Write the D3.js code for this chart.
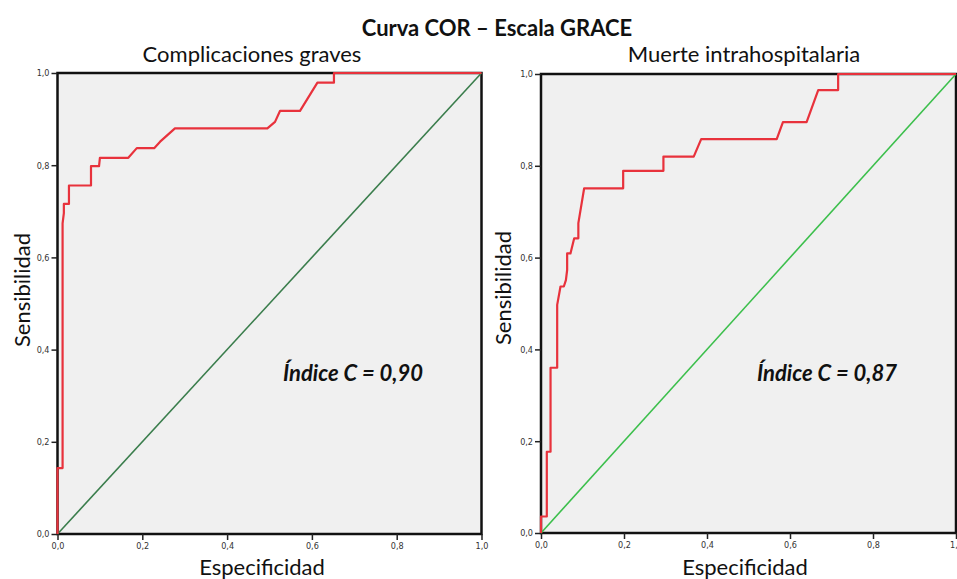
<!DOCTYPE html>
<html lang="es">
<head>
    <meta charset="UTF-8">
    <title>Curva COR – Escala GRACE</title>
    <script src="https://d3js.org/d3.v7.min.js"></script>
    <style>
        body { margin: 0; background: #fff; }
        svg { display: block; }
        .tick text { font-family: "Liberation Sans Narrow", "DejaVu Sans Condensed", sans-serif; font-size: 9px; fill: #333; }
        .tick line { stroke: #222; stroke-width: 1.5; }
        .lbl { font-family: Lato, "Open Sans", sans-serif; fill: #111; }
    </style>
</head>
<body>
<div id="chart"></div>
<script>
    // Data
    const chartTitle = "Curva COR – Escala GRACE";
    const panelTitles = ["Complicaciones graves", "Muerte intrahospitalaria"];
    const cIndexLabels = ["Índice C = 0,90", "Índice C = 0,87"];
    const tickValues = [0, 0.2, 0.4, 0.6, 0.8, 1.0];

    // ROC curve 1: complicaciones graves (x = 1 - especificidad, y = sensibilidad)
    const rocFpr1 = [0, 0, 0.012, 0.012, 0.015, 0.015, 0.027, 0.027, 0.079, 0.079, 0.098, 0.100, 0.167, 0.187, 0.228, 0.242, 0.277, 0.495, 0.513, 0.525, 0.572, 0.613, 0.652, 0.652, 1];
    const rocTpr1 = [0, 0.143, 0.143, 0.674, 0.696, 0.716, 0.716, 0.756, 0.756, 0.798, 0.798, 0.816, 0.816, 0.837, 0.837, 0.851, 0.880, 0.880, 0.894, 0.918, 0.918, 0.979, 0.979, 1, 1];

    // ROC curve 2: muerte intrahospitalaria
    const rocFpr2 = [0, 0, 0.014, 0.014, 0.023, 0.023, 0.039, 0.039, 0.047, 0.055, 0.060, 0.063, 0.063, 0.071, 0.080, 0.090, 0.090, 0.104, 0.198, 0.198, 0.295, 0.295, 0.368, 0.386, 0.568, 0.583, 0.640, 0.668, 0.716, 0.716, 1];
    const rocTpr2 = [0, 0.036, 0.036, 0.177, 0.177, 0.360, 0.360, 0.497, 0.537, 0.537, 0.551, 0.573, 0.609, 0.609, 0.642, 0.642, 0.675, 0.751, 0.751, 0.789, 0.789, 0.820, 0.820, 0.858, 0.858, 0.895, 0.895, 0.965, 0.965, 1, 1];

    const width = 957, height = 579;

    const svg = d3.select("#chart").append("svg")
        .attr("width", width)
        .attr("height", height);

    const locale = d3.formatLocale({ decimal: ",", thousands: ".", grouping: [3], currency: ["", "€"] });
    const fmt = locale.format(".1f");

    // Panel layout
    const panels = [
        { x0: 57.5, x1: 481.5, top: 73, bottom: 534, fpr: rocFpr1, tpr: rocTpr1, diag: "#3a7d4c",
          title: panelTitles[0], index: cIndexLabels[0],
          titleX: 252, yLabelX: 30, yLabelY: 290, xLabelX: 262, indexX: 283 },
        { x0: 541, x1: 956, top: 74, bottom: 533, fpr: rocFpr2, tpr: rocTpr2, diag: "#3cbf4c",
          title: panelTitles[1], index: cIndexLabels[1],
          titleX: 744, yLabelX: 511, yLabelY: 288, xLabelX: 745, indexX: 757 }
    ];

    // Main title
    svg.append("text")
        .attr("class", "lbl")
        .attr("x", 497)
        .attr("y", 36)
        .attr("text-anchor", "middle")
        .style("font-size", "22px")
        .style("font-weight", "bold")
        .text(chartTitle);

    panels.forEach(p => {
        const x = d3.scaleLinear().domain([0, 1]).range([p.x0, p.x1]);
        const y = d3.scaleLinear().domain([0, 1]).range([p.bottom, p.top]);
        const g = svg.append("g");

        // plot background + frame
        g.append("rect")
            .attr("x", x(0)).attr("y", y(1))
            .attr("width", x(1) - x(0)).attr("height", y(0) - y(1))
            .attr("fill", "#f0f0f0")
            .attr("stroke", "#111")
            .attr("stroke-width", 2.5);

        // axes
        g.append("g")
            .attr("transform", `translate(${x(0)},0)`)
            .call(d3.axisLeft(y).tickValues(tickValues).tickFormat(fmt).tickSize(6).tickPadding(2))
            .call(a => a.select(".domain").remove());
        g.append("g")
            .attr("transform", `translate(0,${y(0)})`)
            .call(d3.axisBottom(x).tickValues(tickValues).tickFormat(fmt).tickSize(6).tickPadding(3))
            .call(a => a.select(".domain").remove());

        // reference diagonal
        g.append("line")
            .attr("x1", x(0)).attr("y1", y(0))
            .attr("x2", x(1)).attr("y2", y(1))
            .attr("stroke", p.diag)
            .attr("stroke-width", 1.6);

        // ROC curve
        const pts = p.fpr.map((f, i) => [f, p.tpr[i]]);
        g.append("path")
            .datum(pts)
            .attr("fill", "none")
            .attr("stroke", "#e8323c")
            .attr("stroke-width", 2.2)
            .attr("stroke-linejoin", "round")
            .attr("d", d3.line().x(d => x(d[0])).y(d => y(d[1])));

        // panel title
        g.append("text")
            .attr("class", "lbl")
            .attr("x", p.titleX)
            .attr("y", 62)
            .attr("text-anchor", "middle")
            .style("font-size", "22px")
            .text(p.title);

        // axis titles
        g.append("text")
            .attr("class", "lbl")
            .attr("transform", `translate(${p.yLabelX},${p.yLabelY}) rotate(-90)`)
            .attr("text-anchor", "middle")
            .style("font-size", "22px")
            .text("Sensibilidad");
        g.append("text")
            .attr("class", "lbl")
            .attr("x", p.xLabelX)
            .attr("y", 575)
            .attr("text-anchor", "middle")
            .style("font-size", "22px")
            .text("Especificidad");

        // C index
        g.append("text")
            .attr("class", "lbl")
            .attr("x", p.indexX)
            .attr("y", 381)
            .style("font-size", "22px")
            .style("font-weight", "bold")
            .style("font-style", "italic")
            .text(p.index);
    });
</script>
</body>
</html>
